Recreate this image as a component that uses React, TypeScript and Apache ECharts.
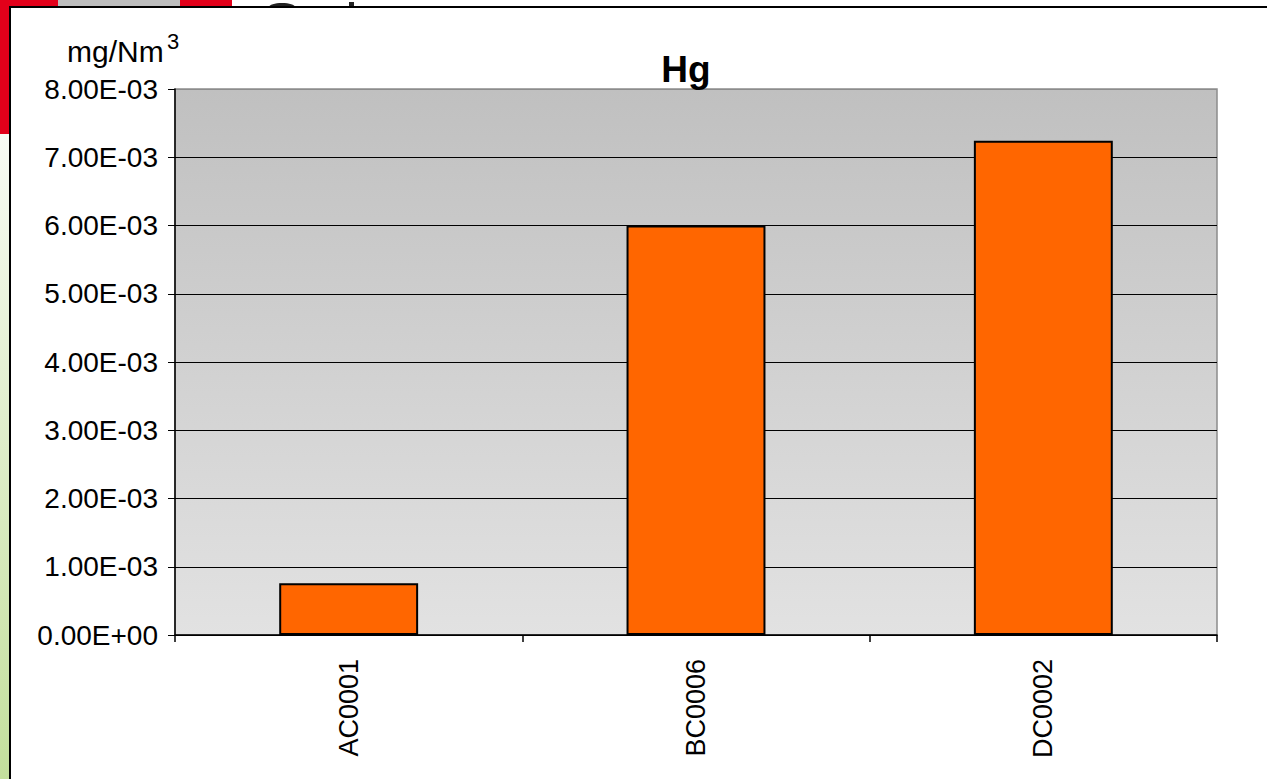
import React, { useEffect, useRef } from "react";
import * as echarts from "echarts";

const categories = ["AC0001", "BC0006", "DC0002"];
const hgValues = [0.00076, 0.006, 0.00724];
const yTickLabels = [
  "0.00E+00",
  "1.00E-03",
  "2.00E-03",
  "3.00E-03",
  "4.00E-03",
  "5.00E-03",
  "6.00E-03",
  "7.00E-03",
  "8.00E-03",
];
const yStep = 0.001;
const chartTitle = "Hg";
const unitText = "mg/Nm";
const unitSup = "3";

const FONT = "Liberation Sans, Arial, sans-serif";

export default function App() {
  const ref = useRef<HTMLDivElement>(null);
  useEffect(() => {
    if (!ref.current) return;
    const chart = echarts.init(ref.current, null, { renderer: "svg" });
    const splitColors = yTickLabels.map((_, i) =>
      i === yTickLabels.length - 1 ? "#8c8c8c" : "#000000"
    );
    chart.setOption({
      animation: false,
      backgroundColor: "#ffffff",
      textStyle: { fontFamily: FONT },
      graphic: [
        // left decorative strip
        { type: "rect", shape: { x: 0, y: 0, width: 10, height: 134 }, style: { fill: "#e2001a" }, z: -10 },
        {
          type: "rect",
          shape: { x: 0, y: 134, width: 10, height: 645 },
          style: {
            fill: new echarts.graphic.LinearGradient(0, 0, 0, 1, [
              { offset: 0, color: "#f8fbf4" },
              { offset: 1, color: "#c3df9c" },
            ]),
          },
          z: -10,
        },
        // top decorative strip
        { type: "rect", shape: { x: 0, y: 0, width: 232, height: 8 }, style: { fill: "#e2001a" }, z: -10 },
        { type: "rect", shape: { x: 58, y: 0, width: 122, height: 8 }, style: { fill: "#bdbdbd" }, z: -9 },
        { type: "ellipse", shape: { cx: 282, cy: 7, rx: 13, ry: 4 }, style: { fill: "#222222" }, z: -9 },
        { type: "rect", shape: { x: 349, y: 2, width: 5, height: 6 }, style: { fill: "#222222" }, z: -9 },
        // panel
        {
          type: "rect",
          shape: { x: 10, y: 7, width: 1300, height: 800 },
          style: { fill: "#ffffff", stroke: "#000000", lineWidth: 2 },
          z: -5,
        },
        // unit label
        {
          type: "text",
          x: 67,
          y: 51,
          style: { text: unitText, font: `30px ${FONT}`, fill: "#000", verticalAlign: "middle", align: "left" },
          z: 10,
        },
        {
          type: "text",
          x: 167,
          y: 41,
          style: { text: unitSup, font: `22px ${FONT}`, fill: "#000", verticalAlign: "middle", align: "left" },
          z: 10,
        },
        // title
        {
          type: "text",
          x: 686,
          y: 69,
          style: { text: chartTitle, font: `bold 37px ${FONT}`, fill: "#000", verticalAlign: "middle", align: "center" },
          z: 10,
        },
      ],
      grid: {
        left: 175,
        right: 50,
        top: 89,
        bottom: 144,
        show: true,
        borderColor: "#8c8c8c",
        borderWidth: 1.5,
        backgroundColor: new echarts.graphic.LinearGradient(0, 0, 0, 1, [
          { offset: 0, color: "#c0c0c0" },
          { offset: 1, color: "#e2e2e2" },
        ]),
      },
      xAxis: {
        type: "category",
        data: categories,
        boundaryGap: true,
        axisLine: { show: true, lineStyle: { color: "#000", width: 1.5 } },
        axisTick: { show: true, length: 7, alignWithLabel: false, lineStyle: { color: "#000", width: 1.5 } },
        axisLabel: { rotate: 90, margin: 24, fontSize: 27, color: "#000", fontFamily: FONT },
        splitLine: { show: false },
      },
      yAxis: {
        type: "value",
        min: 0,
        max: yStep * (yTickLabels.length - 1),
        interval: yStep,
        axisLine: { show: true, lineStyle: { color: "#000", width: 1.5 } },
        axisTick: { show: true, length: 7, lineStyle: { color: "#000", width: 1 } },
        axisLabel: {
          margin: 17,
          fontSize: 28,
          color: "#000",
          fontFamily: FONT,
          formatter: (v: number) => yTickLabels[Math.round(v / yStep)] ?? "",
        },
        splitLine: { show: true, lineStyle: { color: splitColors, width: 1 } },
      },
      series: [
        {
          type: "bar",
          data: hgValues,
          barWidth: "40%",
          itemStyle: { color: "#ff6600", borderColor: "#000", borderWidth: 2 },
        },
      ],
    });
    return () => chart.dispose();
  }, []);
  return (
    <div
      ref={ref}
      style={{ position: "fixed", left: 0, top: 0, width: 1267, height: 779 }}
    />
  );
}
